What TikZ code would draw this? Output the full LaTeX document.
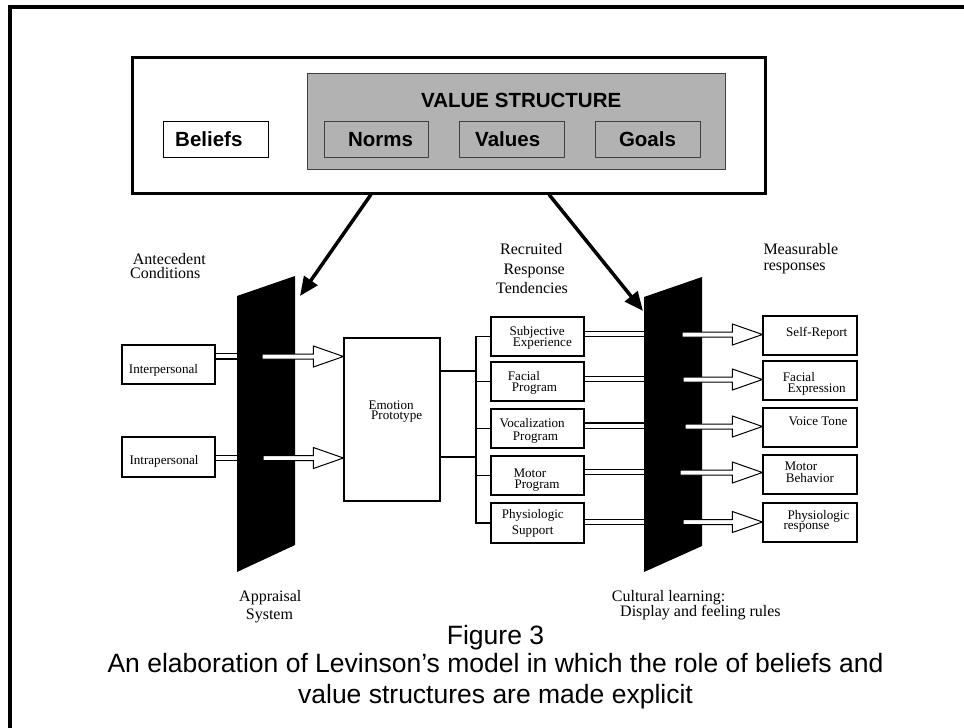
\documentclass[tikz,border=0pt]{standalone}
\usepackage{fontspec}
\setmainfont{Liberation Serif}
\newfontfamily\arialf{Liberation Sans}
\usetikzlibrary{arrows.meta,calc}
\tikzset{
 box/.style={draw, line width=1.2pt, fill=white, inner sep=0},
 gbox/.style={draw=black!75, line width=1pt, fill=black!30, inner sep=0},
 lbl/.style={anchor=base west, inner sep=0, font=\fontsize{16}{16}\selectfont},
 btxt/.style={anchor=base west, inner sep=0, font=\fontsize{13.1}{13.1}\selectfont},
 htxt/.style={anchor=base west, inner sep=0, font=\arialf\bfseries\fontsize{20.5}{20.5}\selectfont},
 captxt/.style={anchor=base, inner sep=0, font=\arialf\fontsize{26.5}{26.5}\selectfont},
 wire/.style={line width=1.3pt},
 dbl/.style={double, double distance=4pt, line width=1.2pt},
 hollow/.style={draw, fill=white, line width=1pt, line join=miter},
 bigarrow/.style={line width=3.5pt, -{Triangle[length=19pt,width=16pt]}},
}
\newcommand\harrow[2]{\draw[hollow] ($(#1)+(0,-2.5)$) -- ($(#2)+(-30,-2.5)$) -- ($(#2)+(-30,-10.5)$) -- (#2) -- ($(#2)+(-30,10.5)$) -- ($(#2)+(-30,2.5)$) -- ($(#1)+(0,2.5)$) -- cycle;}
\begin{document}
\begin{tikzpicture}[x=1pt,y=-1pt]
\useasboundingbox (0,0) rectangle (964,728);
% frame
\draw[line width=4pt, line join=miter] (10,728) -- (10,7) -- (964,7);

% top box
\node[draw, line width=3pt, fill=white, minimum width=633, minimum height=136, inner sep=0] (top) at (448.5,125) {};
\node[gbox, minimum width=417.4, minimum height=96] (vs) at (516.3,121) {};
\node[htxt] (vst) at (421,107.3) {VALUE STRUCTURE};
\node[box, line width=1pt, minimum width=105, minimum height=36] (beliefs) at (215.9,139) {};
\node[htxt] (beliefst) at (175,146.7) {Beliefs};
\node[gbox, minimum width=104.6, minimum height=36] (norms) at (376.3,139) {};
\node[htxt] (normst) at (347.8,146.7) {Norms};
\node[gbox, minimum width=104.5, minimum height=36] (values) at (512,139) {};
\node[htxt] (valuest) at (475,146.7) {Values};
\node[gbox, minimum width=105, minimum height=36] (goals) at (648,139) {};
\node[htxt] (goalst) at (618.8,146.7) {Goals};

% black shapes
\fill (237,296) -- (295,276) -- (295,545) -- (237,572) -- cycle;
\fill (644,297) -- (702,277) -- (702,546) -- (644,572) -- cycle;

% big arrows
\coordinate (la) at (371,194.5);
\coordinate (lt) at (300,296);
\coordinate (ra) at (549,194.5);
\coordinate (rt) at (643,311);
\draw[bigarrow] (la) -- (lt);
\draw[bigarrow] (ra) -- (rt);

% labels
\node[lbl] (ant1) at (132.7,264.3) {Antecedent};
\node[lbl] (ant2) at (130,278.7) {Conditions};
\node[lbl] (app1) at (239,601.7) {Appraisal};
\node[lbl] (app2) at (245.7,619) {System};
\node[lbl] (rec1) at (500,254.3) {Recruited};
\node[lbl] (rec2) at (503.3,274) {Response};
\node[lbl] (rec3) at (496,293.3) {Tendencies};
\node[lbl] (mea1) at (763.3,254.3) {Measurable};
\node[lbl] (mea2) at (763.3,270) {responses};
\node[lbl] (cul1) at (611.7,601.7) {Cultural learning:};
\node[lbl] (cul2) at (620,616.7) {Display and feeling rules};

% antecedent boxes
\node[box, minimum width=93, minimum height=39] (inter) at (168.5,364.5) {};
\node[btxt] (intert) at (128.7,373.3) {Interpersonal};
\node[box, minimum width=93, minimum height=40] (intra) at (168.5,457) {};
\node[btxt] (intrat) at (129.3,464.3) {Intrapersonal};

% emotion prototype
\node[box, minimum width=96, minimum height=163] (ep) at (392,419.5) {};
\node[btxt] (ept1) at (368.3,409) {Emotion};
\node[btxt] (ept2) at (371,419.6) {Prototype};

% response tendency boxes
\node[box, minimum width=93, minimum height=39] (subj) at (537.5,336.5) {};
\node[btxt] at (509.3,335) {Subjective};
\node[btxt] at (512.7,346) {Experience};
\node[box, minimum width=93, minimum height=39] (facial) at (537.5,381.5) {};
\node[btxt] at (507.7,380) {Facial};
\node[btxt] at (511.7,391) {Program};
\node[box, minimum width=93, minimum height=39] (vocal) at (537.5,428.5) {};
\node[btxt] at (499.3,427.3) {Vocalization};
\node[btxt] at (512.7,440) {Program};
\node[box, minimum width=93, minimum height=39] (motor) at (537.5,475.5) {};
\node[btxt] at (513.3,477.3) {Motor};
\node[btxt] at (514.3,488.3) {Program};
\node[box, minimum width=93, minimum height=40] (physio) at (537.5,523) {};
\node[btxt] at (501.7,518.3) {Physiologic};
\node[btxt] at (511.7,534) {Support};

% measurable response boxes
\node[box, minimum width=94, minimum height=39] (self) at (810,335.5) {};
\node[btxt] at (786,336) {Self-Report};
\node[box, minimum width=94, minimum height=39] (facexp) at (810,380.5) {};
\node[btxt] at (782.7,381) {Facial};
\node[btxt] at (787.3,392) {Expression};
\node[box, minimum width=94, minimum height=39] (voice) at (810,427.5) {};
\node[btxt] at (788.3,425) {Voice Tone};
\node[box, minimum width=94, minimum height=39] (motorb) at (810,474.5) {};
\node[btxt] at (784.3,470.7) {Motor};
\node[btxt] at (785.7,482) {Behavior};
\node[box, minimum width=94, minimum height=39] (physresp) at (810,522.5) {};
\node[btxt] at (787.3,519) {Physiologic};
\node[btxt] at (783.3,529.6) {response};

% double lines antecedents -> appraisal
\coordinate (a1) at (237,356.3);
\coordinate (a2) at (237,458);
\draw[dbl] (inter.east |- a1) -- (a1);
\draw[dbl] (intra.east |- a2) -- (a2);

% hollow arrows appraisal -> emotion prototype
\coordinate (h1s) at (262,356.5);
\coordinate (h1t) at (ep.west |- h1s);
\coordinate (h2s) at (263,458);
\coordinate (h2t) at (ep.west |- h2s);
\harrow{h1s}{h1t}
\harrow{h2s}{h2t}

% emotion prototype -> bus -> tendencies
\coordinate (e1) at (ep.east |- 0,371);
\coordinate (e2) at (ep.east |- 0,457);
\coordinate (bus) at (476,0);
\draw[wire] (e1) -- (bus |- e1);
\draw[wire] (e2) -- (bus |- e2);
\draw[wire, line join=miter] (subj.west) -- (bus |- subj.west) -- (bus |- physio.west) -- (physio.west);
\draw[wire] (bus |- facial.west) -- (facial.west);
\draw[wire] (bus |- vocal.west) -- (vocal.west);
\draw[wire] (bus |- motor.west) -- (motor.west);

% double lines tendencies -> cultural learning
\coordinate (d1) at (644,334);
\coordinate (d2) at (644,378.7);
\coordinate (d3) at (644,425.5);
\coordinate (d4) at (644,472);
\coordinate (d5) at (644,522);
\draw[dbl] (subj.east |- d1) -- (d1);
\draw[dbl] (facial.east |- d2) -- (d2);
\draw[dbl] (vocal.east |- d3) -- (d3);
\draw[dbl] (motor.east |- d4) -- (d4);
\draw[dbl] (physio.east |- d5) -- (d5);

% hollow arrows -> measurable responses
\coordinate (r1s) at (682,334.5);
\coordinate (r1t) at (self.west |- r1s);
\coordinate (r2s) at (683,379.5);
\coordinate (r2t) at (facexp.west |- r2s);
\coordinate (r3s) at (685,426.5);
\coordinate (r3t) at (voice.west |- r3s);
\coordinate (r4s) at (680,472.5);
\coordinate (r4t) at (motorb.west |- r4s);
\coordinate (r5s) at (683,522);
\coordinate (r5t) at (physresp.west |- r5s);
\harrow{r1s}{r1t}
\harrow{r2s}{r2t}
\harrow{r3s}{r3t}
\harrow{r4s}{r4t}
\harrow{r5s}{r5t}

% caption
\node[captxt] (fig) at (495.5,644) {Figure 3};
\node[captxt] (cap1) at (495.5,672) {An elaboration of Levinson’s model in which the role of beliefs and};
\node[captxt] (cap2) at (495.5,703) {value structures are made explicit};
\end{tikzpicture}
\end{document}
